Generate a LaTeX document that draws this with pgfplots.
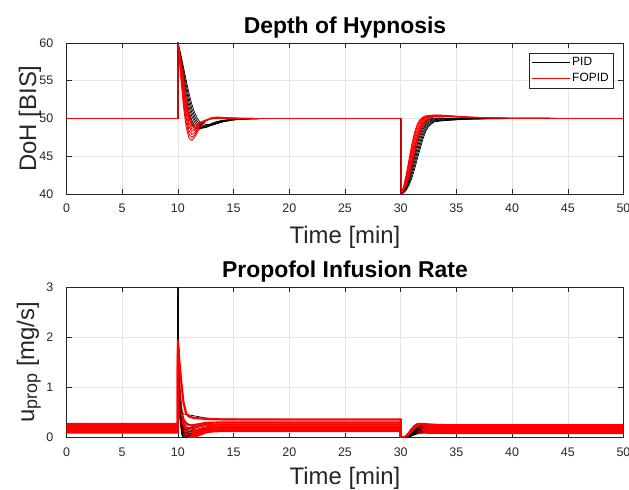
\documentclass[border=0pt]{standalone}
\usepackage{pgfplots}
\usepackage{pgfplotstable}
\pgfplotsset{compat=1.18}
\usepackage{fontspec}
\setmainfont{Liberation Sans}
\definecolor{axgray}{rgb}{0.15,0.15,0.15}
\definecolor{gridc}{rgb}{0.9,0.9,0.9}

\pgfplotstableread{
t     b1    b2    b3    b4    b5    b6    b7    r1    r2    r3    r4    r5    r6    r7
0     50    50    50    50    50    50    50    50    50    50    50    50    50    50
10    50    50    50    50    50    50    50    50    50    50    50    50    50    50
10    60    60    60    60    60    60    60    60    60    60    60    60    60    60
10.25 56.8  57.1  57.4  57.7  58.0  58.3  58.6  55.6  56.0  56.4  56.8  57.2  57.6  58.0
10.5  53.9  54.4  54.9  55.3  55.8  56.3  56.8  51.6  52.2  52.8  53.4  54.0  54.6  55.3
10.75 51.6  52.1  52.6  53.2  53.8  54.4  55.0  48.8  49.4  50.0  50.6  51.2  51.9  52.6
11    50.0  50.4  50.9  51.5  52.1  52.7  53.3  47.4  47.9  48.4  48.9  49.4  50.0  50.6
11.25 49.1  49.4  49.8  50.3  50.8  51.3  51.9  47.1  47.5  47.9  48.3  48.6  49.0  49.5
11.5  48.7  48.8  49.1  49.5  49.9  50.3  50.8  47.5  47.8  48.1  48.4  48.6  48.8  49.1
11.75 48.6  48.6  48.8  49.0  49.3  49.6  50.0  48.2  48.4  48.6  48.8  48.9  49.0  49.2
12    48.7  48.6  48.7  48.8  49.0  49.2  49.5  48.9  49.0  49.1  49.2  49.3  49.4  49.5
12.5  49.0  48.9  48.8  48.8  48.9  49.0  49.2  49.7  49.7  49.7  49.7  49.75 49.75 49.8
13    49.35 49.25 49.15 49.1  49.1  49.1  49.2  50.1  50.05 50.0  50.0  50.0  49.95 49.95
13.5  49.6  49.55 49.45 49.4  49.35 49.3  49.35 50.2  50.15 50.1  50.08 50.05 50.03 50.0
14    49.75 49.75 49.7  49.65 49.6  49.55 49.55 50.15 50.1  50.08 50.06 50.05 50.03 50.02
15    49.9  49.9  49.88 49.85 49.85 49.82 49.8  50.05 50.04 50.03 50.02 50.02 50.01 50.01
16    49.97 49.97 49.96 49.95 49.95 49.94 49.93 50.01 50.01 50.01 50.0  50.0  50.0  50.0
18    50    50    50    50    50    50    50    50    50    50    50    50    50    50
30    50    50    50    50    50    50    50    50    50    50    50    50    50    50
30    40    40    40    40    40    40    40    40    40    40    40    40    40    40
30.25 40.5  40.4  40.35 40.3  40.25 40.2  40.15 40.9  40.8  40.7  40.6  40.5  40.45 40.4
30.5  41.5  41.3  41.1  40.95 40.8  40.65 40.5  42.6  42.3  42.0  41.8  41.6  41.4  41.2
30.75 42.9  42.6  42.3  42.0  41.7  41.45 41.2  44.6  44.2  43.8  43.4  43.0  42.7  42.4
31    44.5  44.1  43.7  43.3  42.9  42.5  42.1  46.6  46.2  45.7  45.2  44.7  44.3  43.9
31.25 46.1  45.7  45.2  44.8  44.3  43.8  43.3  48.2  47.8  47.4  46.9  46.4  45.9  45.5
31.5  47.5  47.1  46.7  46.2  45.7  45.2  44.7  49.3  49.0  48.6  48.2  47.8  47.4  47.0
31.75 48.6  48.3  47.9  47.5  47.0  46.5  46.0  49.9  49.7  49.45 49.2  48.9  48.6  48.3
32    49.3  49.1  48.8  48.5  48.1  47.7  47.3  50.2  50.1  49.95 49.8  49.6  49.4  49.2
32.25 49.7  49.55 49.35 49.15 48.9  48.6  48.3  50.35 50.3  50.2  50.1  50.0  49.85 49.7
32.5  49.9  49.8  49.65 49.5  49.35 49.15 48.95 50.4  50.38 50.32 50.25 50.2  50.1  50.0
33    50.05 49.95 49.85 49.75 49.68 49.6  49.55 50.45 50.43 50.4  50.36 50.32 50.28 50.22
33.5  50.08 50.0  49.9  49.82 49.75 49.7  49.66 50.45 50.43 50.4  50.38 50.35 50.32 50.28
34    50.05 50.0  49.93 49.86 49.8  49.75 49.72 50.4  50.38 50.36 50.34 50.32 50.3  50.27
35    50.02 50.0  49.96 49.92 49.88 49.85 49.82 50.3  50.28 50.26 50.25 50.24 50.22 50.2
36    50.01 50.0  49.98 49.96 49.94 49.92 49.9  50.2  50.18 50.17 50.16 50.15 50.14 50.13
38    50    50    50    49.99 49.98 49.97 49.96 50.08 50.07 50.07 50.06 50.06 50.05 50.05
40    50    50    50    50    50    49.99 49.99 50.03 50.03 50.02 50.02 50.02 50.02 50.02
45    50    50    50    50    50    50    50    50    50    50    50    50    50    50
50    50    50    50    50    50    50    50    50    50    50    50    50    50    50
}\topdata

\pgfplotstableread{
t     b1    b2    b3    b4    b5    b6    b7    r1    r2    r3    r4    r5    r6    r7
0     0.10  0.125 0.15  0.175 0.20  0.235 0.27  0.10  0.125 0.15  0.175 0.20  0.235 0.27
10    0.10  0.125 0.15  0.175 0.20  0.235 0.27  0.10  0.125 0.15  0.175 0.20  0.235 0.27
10    3.4   3.3   3.2   3.1   3.0   2.9   2.8   1.35  1.45  1.55  1.65  1.75  1.85  1.95
10.1  1.0   1.05  1.1   1.15  1.2   1.25  1.3   0.8   0.85  0.9   0.95  1.0   1.1   1.6
10.2  0.35  0.38  0.42  0.46  0.5   0.56  0.7   0.45  0.5   0.56  0.62  0.7   0.8   1.35
10.35 0.05  0.07  0.1   0.14  0.19  0.26  0.5   0.2   0.25  0.3   0.35  0.42  0.5   1.0
10.5  0     0     0.02  0.05  0.1   0.17  0.47  0.08  0.12  0.16  0.21  0.28  0.36  0.7
10.75 0     0     0     0.03  0.08  0.15  0.46  0.02  0.05  0.09  0.14  0.2   0.28  0.47
11    0     0.01  0.03  0.06  0.11  0.18  0.45  0     0.02  0.07  0.12  0.18  0.25  0.42
11.25 0.02  0.04  0.06  0.1   0.15  0.21  0.44  0     0.02  0.07  0.12  0.18  0.24  0.4
11.5  0.05  0.07  0.1   0.13  0.18  0.24  0.43  0.01  0.04  0.09  0.14  0.2   0.25  0.39
12    0.09  0.11  0.14  0.17  0.22  0.27  0.41  0.06  0.09  0.13  0.17  0.23  0.27  0.38
12.5  0.11  0.14  0.17  0.2   0.24  0.29  0.39  0.1   0.13  0.17  0.2   0.25  0.29  0.37
13    0.12  0.15  0.18  0.21  0.25  0.295 0.38  0.12  0.15  0.18  0.21  0.255 0.295 0.365
14    0.125 0.155 0.185 0.215 0.255 0.3   0.37  0.13  0.16  0.19  0.22  0.26  0.3   0.36
16    0.13  0.16  0.19  0.22  0.26  0.3   0.365 0.13  0.16  0.19  0.22  0.26  0.3   0.36
20    0.13  0.16  0.19  0.22  0.26  0.3   0.36  0.13  0.16  0.19  0.22  0.26  0.3   0.36
30    0.13  0.16  0.19  0.22  0.26  0.3   0.36  0.13  0.16  0.19  0.22  0.26  0.3   0.36
30    0     0     0     0     0     0     0     0     0     0     0     0     0     0
30.25 0     0     0     0     0     0     0     0     0     0     0     0     0     0
30.5  0     0     0     0     0     0     0     0     0     0.005 0.01  0.015 0.02  0.025
30.75 0.009 0.011 0.013 0.016 0.018 0.021 0.025 0.03  0.04  0.05  0.06  0.07  0.08  0.095
31    0.032 0.039 0.046 0.054 0.063 0.074 0.086 0.06  0.077 0.091 0.109 0.126 0.147 0.172
31.25 0.054 0.066 0.078 0.093 0.108 0.126 0.147 0.085 0.105 0.124 0.147 0.171 0.2   0.233
31.5  0.072 0.088 0.104 0.124 0.144 0.168 0.196 0.097 0.119 0.14  0.167 0.194 0.227 0.265
32    0.09  0.11  0.13  0.155 0.18  0.21  0.245 0.099 0.121 0.143 0.17  0.198 0.231 0.27
32.5  0.097 0.119 0.14  0.167 0.194 0.227 0.265 0.095 0.117 0.138 0.164 0.191 0.223 0.26
33    0.097 0.119 0.14  0.167 0.194 0.227 0.265 0.093 0.113 0.134 0.16  0.185 0.216 0.252
34    0.095 0.116 0.137 0.163 0.189 0.22  0.257 0.091 0.111 0.131 0.157 0.182 0.212 0.247
36    0.092 0.112 0.133 0.158 0.184 0.214 0.25  0.09  0.11  0.13  0.155 0.18  0.21  0.245
40    0.09  0.11  0.13  0.155 0.18  0.21  0.245 0.09  0.11  0.13  0.155 0.18  0.21  0.245
50    0.09  0.11  0.13  0.155 0.18  0.21  0.245 0.09  0.11  0.13  0.155 0.18  0.21  0.245
}\botdata

\pgfplotsset{
  mlab/.style={
    scale only axis, width=557bp,
    xmin=0, xmax=50, xtick={0,5,...,50},
    grid=major,
    major grid style={line width=0.5pt, draw=gridc},
    axis line style={draw=axgray, line width=0.5pt},
    every tick/.style={draw=axgray, line width=0.5pt},
    major tick length=5bp, tick align=inside,
    /pgf/number format/assume math mode=true,
    ticklabel style={font=\fontsize{12.5}{12.5}\selectfont, text=axgray},
    xticklabel style={anchor=base, inner sep=0pt, yshift=-19bp},
    yticklabel style={anchor=east, inner sep=0pt, xshift=-13bp},
    every axis title shift=0pt,
    title style={font=\bfseries\fontsize{23}{23}\selectfont, anchor=base},
    xlabel style={font=\fontsize{24}{24}\selectfont, text=axgray, anchor=base},
  }
}

\begin{document}
\begin{tikzpicture}
\begin{axis}[mlab, at={(66.5bp,296bp)}, anchor=south west, height=151bp,
  ymin=40, ymax=60, ytick={40,45,...,60},
  title={Depth of Hypnosis},
  title style={at={(axis description cs:0.5,1.066)}},
  xlabel={Time [min]},
  xlabel style={at={(axis description cs:0.5,-0.327)}},
  ylabel={DoH [BIS]},
  every axis y label/.style={at={(axis description cs:-0.0545,0.5)}, rotate=90, anchor=base,
    font=\fontsize{24}{24}\selectfont, text=axgray},
  legend style={at={(axis description cs:1,1)}, anchor=north east, xshift=-10bp, yshift=-10bp,
    draw=axgray, line width=0.5pt, font=\fontsize{12}{12}\selectfont,
    inner xsep=3bp, inner ysep=3bp, row sep=3bp,
    nodes={inner sep=1.5bp}, cells={anchor=west}},
  legend image code/.code={\draw[#1, line width=0.5pt] (0bp,0bp) -- (38bp,0bp);},
]
\addplot[black, line width=0.7pt] table[x=t, y=b1] {\topdata};
\addlegendentry{PID}
\addplot[red, line width=0.9pt] table[x=t, y=r1] {\topdata};
\addlegendentry{FOPID}
\pgfplotsinvokeforeach{2,...,7}{
  \addplot[black, line width=0.7pt, forget plot] table[x=t, y=b#1] {\topdata};
  \addplot[red, line width=0.9pt, forget plot] table[x=t, y=r#1] {\topdata};
}
\end{axis}

\begin{axis}[mlab, at={(66.5bp,52.5bp)}, anchor=south west, height=150.5bp,
  ymin=0, ymax=3, ytick={0,1,2,3},
  title={Propofol Infusion Rate},
  title style={at={(axis description cs:0.5,1.066)}},
  xlabel={Time [min]},
  xlabel style={at={(axis description cs:0.5,-0.315)}},
  ylabel={u\raisebox{-3bp}{\fontsize{18}{18}\selectfont prop} [mg/s]},
  every axis y label/.style={at={(axis description cs:-0.058,0.5)}, rotate=90, anchor=base,
    font=\fontsize{24}{24}\selectfont, text=axgray},
]
\pgfplotsinvokeforeach{1,...,7}{
  \addplot[black, line width=0.7pt] table[x=t, y=b#1] {\botdata};
  \addplot[red, line width=2.2pt] table[x=t, y=r#1] {\botdata};
}
\end{axis}
\pgfresetboundingbox
\useasboundingbox (0,0) rectangle (629bp,490bp);
\end{tikzpicture}
\end{document}
